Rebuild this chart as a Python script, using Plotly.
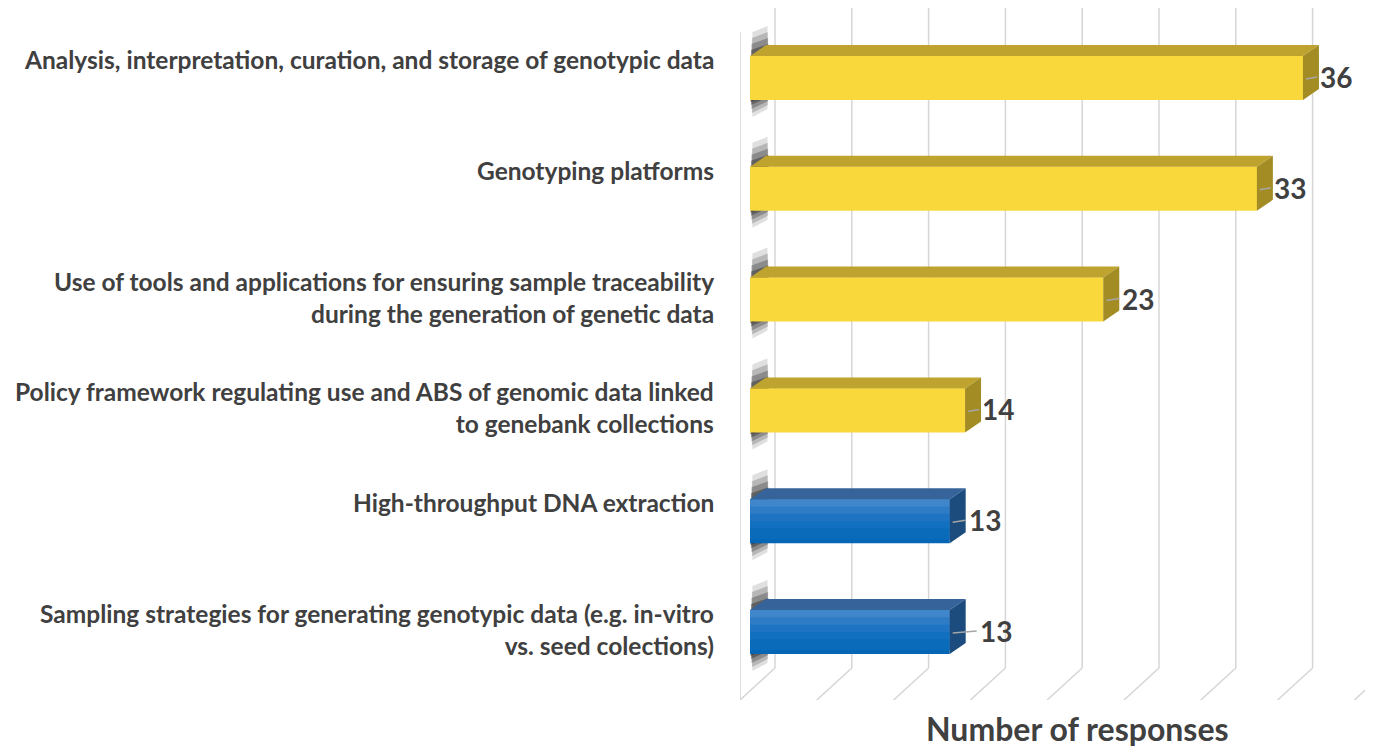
"""Pseudo-3D horizontal bar chart: genebank genotyping capacity needs."""

import plotly.graph_objects as go

# ---------------------------------------------------------------------------
# Data
# ---------------------------------------------------------------------------

categories = [
    "Analysis, interpretation, curation, and storage of genotypic data",
    "Genotyping platforms",
    "Use of tools and applications for ensuring sample traceability<br>during the generation of genetic data",
    "Policy framework regulating use and ABS of genomic data linked<br>to genebank collections",
    "High-throughput DNA extraction",
    "Sampling strategies for generating genotypic data (e.g. in-vitro<br>vs. seed colections)",
]
responses = [36, 33, 23, 14, 13, 13]
bar_group = ["yellow", "yellow", "yellow", "yellow", "blue", "blue"]
grid_ticks = [0, 5, 10, 15, 20, 25, 30, 35, 40]

# ---------------------------------------------------------------------------
# Styling / geometry helpers
# ---------------------------------------------------------------------------

PAGE_PAD = 8            # default <body> margin of the html page
W, H = 1373 - PAGE_PAD, 747 - PAGE_PAD
FONT = "Lato"
TEXT_COLOR = "#404040"
GRID_COLOR = "#d6d6d6"

# front-face colour bands (top -> bottom), plus top and side faces
COLORS = {
    "yellow": dict(bands=["#F9D83C"] * 6, top="#BFA32F", side="#A48C25"),
    "blue": dict(bands=["#4086CA", "#2E7CC6", "#1E74C2", "#1170BF", "#0A6BBB", "#0566B6"],
                 top="#36639A", side="#1C4C7E"),
}

PX_PER_UNIT = 15.36      # horizontal pixels per response
PX_PER_ROW = 110.8       # vertical pixels between categories
LEFT = 740 - PAGE_PAD    # left wall (px in the page)
ZERO_X = 750             # value 0 on the front plane (reference px)
ROW0_Y = 78              # centre of the first row (reference px)
TOP_Y, FLOOR_Y = 8, 700


def dx(px):
    return px / PX_PER_UNIT


def dy(px):
    return px / PX_PER_ROW


X_RANGE = [dx(740 - ZERO_X), dx(1373 - ZERO_X)]
Y_RANGE = [dy(FLOOR_Y - ROW0_Y), dy(TOP_Y - ROW0_Y)]

BAR_W = dy(44)
DEPTH_X, DEPTH_Y = dx(16), dy(-11)
WALL_X = dx(25)
FLOOR_BACK_Y = dy(668 - ROW0_Y)
FLOOR_FRONT_Y = Y_RANGE[0]

positions = list(range(len(categories)))

fig = go.Figure()

# back-wall gridlines and floor lines
shapes = []
for t in grid_ticks:
    shapes.append(dict(type="line", xref="x", yref="y", layer="below",
                       x0=t + WALL_X, x1=t + WALL_X, y0=Y_RANGE[1], y1=FLOOR_BACK_Y,
                       line=dict(color=GRID_COLOR, width=1.5)))
    shapes.append(dict(type="line", xref="x", yref="y", layer="below",
                       x0=t + WALL_X, x1=t + dx(-10), y0=FLOOR_BACK_Y, y1=FLOOR_FRONT_Y,
                       line=dict(color=GRID_COLOR, width=1.5)))
# left wall edge
shapes.append(dict(type="line", xref="x", yref="y", layer="below",
                   x0=dx(-10), x1=dx(-10), y0=dy(32 - ROW0_Y), y1=FLOOR_FRONT_Y,
                   line=dict(color=GRID_COLOR, width=1.5)))

# soft shadows on the wall behind the left end of each bar
for c in positions:
    for up, down, alpha in [(30, 17, 0.14), (24, 13, 0.20), (18, 9, 0.28), (12, 5, 0.38), (6, 2, 0.45)]:
        top = c - BAR_W / 2 - dy(up)
        bot = c + BAR_W / 2 + dy(down)
        x0, x1 = dx(0 + up * 0.08), dx(19 - up * 0.05)
        path = (f"M {x0},{top + dy(6)} L {x1},{top} "
                f"L {x1},{bot - dy(8)} L {x0},{bot} Z")
        shapes.append(dict(type="path", xref="x", yref="y", layer="below", path=path,
                           fillcolor=f"rgba(25,25,25,{alpha})", line=dict(width=0)))

# front faces: a full bar, then lighter bands laid over its upper part
bar_style = dict(y=positions, x=responses, orientation="h",
                 hovertemplate="%{x}<extra></extra>", showlegend=False)
n_bands = len(COLORS["blue"]["bands"])
band_w = BAR_W / n_bands
fig.add_trace(go.Bar(
    width=BAR_W,
    marker=dict(color=[COLORS[g]["bands"][-1] for g in bar_group], line=dict(width=0)),
    **bar_style,
))
for b in range(n_bands - 1):
    fig.add_trace(go.Bar(
        width=band_w * 1.5,
        offset=-BAR_W / 2 + b * band_w,
        marker=dict(color=[COLORS[g]["bands"][b] for g in bar_group], line=dict(width=0)),
        **bar_style,
    ))

# top and side faces, computed from each bar's value
for c, v, g in zip(positions, responses, bar_group):
    top = c - BAR_W / 2
    bot = c + BAR_W / 2
    fig.add_trace(go.Scatter(
        x=[0, v, v + DEPTH_X, DEPTH_X, 0],
        y=[top, top, top + DEPTH_Y, top + DEPTH_Y, top],
        mode="lines", fill="toself", line=dict(width=0),
        fillcolor=COLORS[g]["top"], hoverinfo="skip", showlegend=False,
    ))
    fig.add_trace(go.Scatter(
        x=[v, v + DEPTH_X, v + DEPTH_X, v, v],
        y=[top, top + DEPTH_Y, bot + DEPTH_Y, bot, top],
        mode="lines", fill="toself", line=dict(width=0),
        fillcolor=COLORS[g]["side"], hoverinfo="skip", showlegend=False,
    ))

# data labels with short leader lines
label_shift = [15, 15, 17, 15, 17, 28]
annotations = []
for c, v, s in zip(positions, responses, label_shift):
    shapes.append(dict(type="line", xref="x", yref="y",
                       x0=v + dx(3), x1=v + dx(s - 1), y0=c + dy(1), y1=c - dy(1),
                       line=dict(color="#a6a6a6", width=1.5)))
    annotations.append(dict(
        x=v, y=c, xref="x", yref="y", xanchor="left", yanchor="middle",
        xshift=s, yshift=1, text=f"<b>{v}</b>", showarrow=False,
        font=dict(family=FONT, size=28, color=TEXT_COLOR),
    ))

# category labels (top-aligned like the wrapped labels of the original)
for c, lab in zip(positions, categories):
    annotations.append(dict(
        x=0, y=c, xref="paper", yref="y", xanchor="right", yanchor="top",
        xshift=-24, yshift=35, align="right", text=f"<b>{lab}</b>", showarrow=False,
        font=dict(family=FONT, size=24.5, color=TEXT_COLOR),
    ))

# axis title
plot_h = FLOOR_Y - TOP_Y
annotations.append(dict(
    x=(1077 - 740) / (1373 - 740), y=(FLOOR_Y - 728) / plot_h,
    xref="paper", yref="paper", xanchor="center", yanchor="middle",
    text="<b>Number of responses</b>",
    showarrow=False, font=dict(family=FONT, size=32, color=TEXT_COLOR),
))

fig.update_layout(
    width=W,
    height=H,
    margin=dict(l=LEFT, r=0, t=TOP_Y - PAGE_PAD, b=747 - FLOOR_Y),
    paper_bgcolor="white",
    plot_bgcolor="white",
    barmode="overlay",
    showlegend=False,
    xaxis=dict(range=X_RANGE, visible=False, fixedrange=True),
    yaxis=dict(range=Y_RANGE, visible=False, fixedrange=True),
    shapes=shapes,
    annotations=annotations,
)

fig.write_html("out.html")
